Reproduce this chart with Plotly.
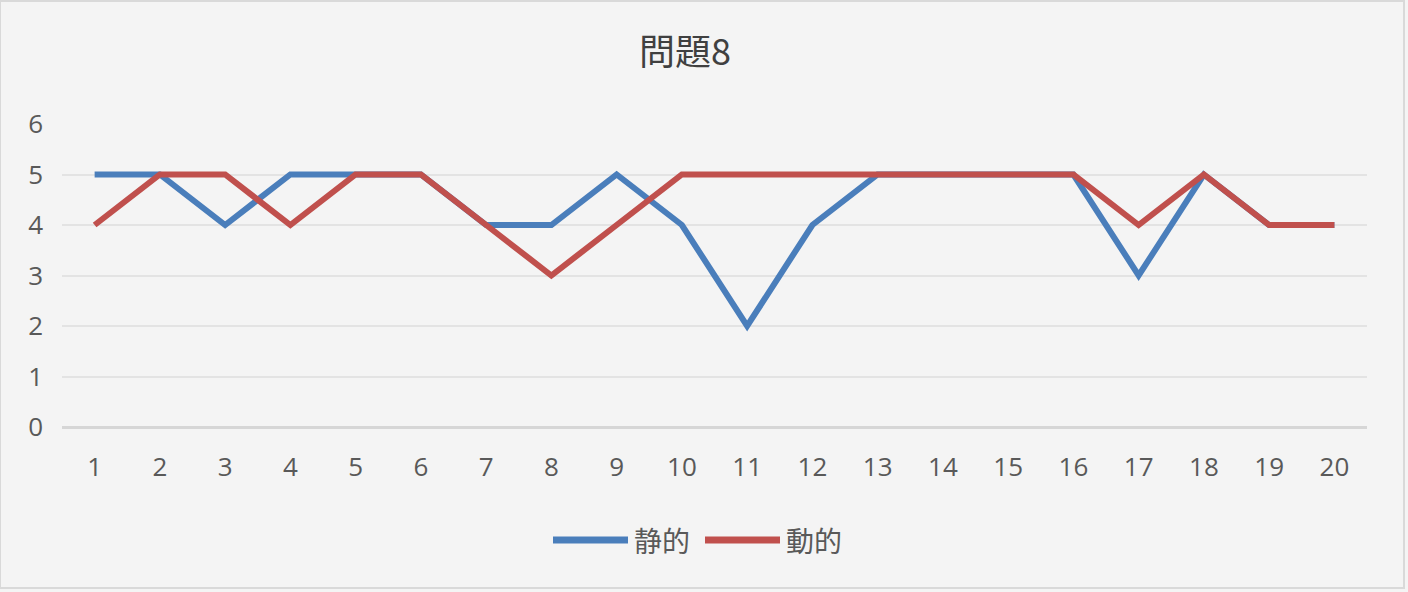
import plotly.graph_objects as go

# Question numbers on the category axis
categories = [str(i) for i in range(1, 21)]

# Scores per question for each condition
static_scores = [5, 5, 4, 5, 5, 5, 4, 4, 5, 4, 2, 4, 5, 5, 5, 5, 3, 5, 4, 4]
dynamic_scores = [4, 5, 5, 4, 5, 5, 4, 3, 4, 5, 5, 5, 5, 5, 5, 5, 4, 5, 4, 4]

series_names = ["静的", "動的"]
series_colors = ["#4a7ebb", "#c0504d"]
y_ticks = [0, 1, 2, 3, 4, 5, 6]

W, H = 1408, 592
CJK = "Noto Sans CJK JP"
TEXT = "#595959"

fig = go.Figure()
for name, vals, color in zip(series_names, [static_scores, dynamic_scores], series_colors):
    fig.add_trace(go.Scatter(
        x=categories, y=vals, name=name, mode="lines",
        line=dict(color=color, width=6),
        showlegend=False,
    ))

# Chart frame
shapes = [dict(type="rect", xref="paper", yref="paper",
               x0=-62 / (W - 62 - 41), x1=1 + (1404 - 1367) / (W - 62 - 41),
               y0=-(588 - 427) / (427 - 124), y1=1 + 123 / (427 - 124),
               line=dict(color="#d9d9d9", width=2), layer="below")]

# Legend drawn as line swatches with labels
annotations = []
legend_items = [(553, 628, 632), (705, 780, 784)]
ly = 540
for (x0, x1, tx), name, color in zip(legend_items, series_names, series_colors):
    shapes.append(dict(type="line", xref="paper", yref="paper",
                       x0=(x0 - 62) / (W - 103), x1=(x1 - 62) / (W - 103),
                       y0=(427 - ly) / 303, y1=(427 - ly) / 303,
                       line=dict(color=color, width=7)))
    annotations.append(dict(text=name, xref="paper", yref="paper",
                            x=(tx - 62) / (W - 103), y=(427 - ly) / 303,
                            xanchor="left", yanchor="middle", showarrow=False,
                            font=dict(family=CJK, size=28, color=TEXT)))

fig.update_layout(
    width=W, height=H,
    margin=dict(l=62, r=41, t=124, b=165),
    paper_bgcolor="#f4f4f4", plot_bgcolor="#f4f4f4",
    title=dict(text="問題8", x=685 / W, xanchor="center",
               y=1 - 52 / H, yanchor="middle",
               font=dict(family=CJK, size=36, color="#404040")),
    xaxis=dict(type="category", range=[-0.5, 19.5], showgrid=False,
               showline=False, zeroline=False, ticks="",
               tickfont=dict(family="Open Sans", size=26, color=TEXT),
               ticklabelstandoff=22),
    yaxis=dict(range=[0, 6], tickvals=y_ticks, showgrid=True,
               gridcolor="#e3e3e3", gridwidth=2, zeroline=True,
               zerolinecolor="#d6d6d6", zerolinewidth=3, showline=False,
               tickfont=dict(family="Open Sans", size=26, color=TEXT),
               ticklabelstandoff=18),
    shapes=shapes, annotations=annotations,
)

fig.write_html("out.html")
